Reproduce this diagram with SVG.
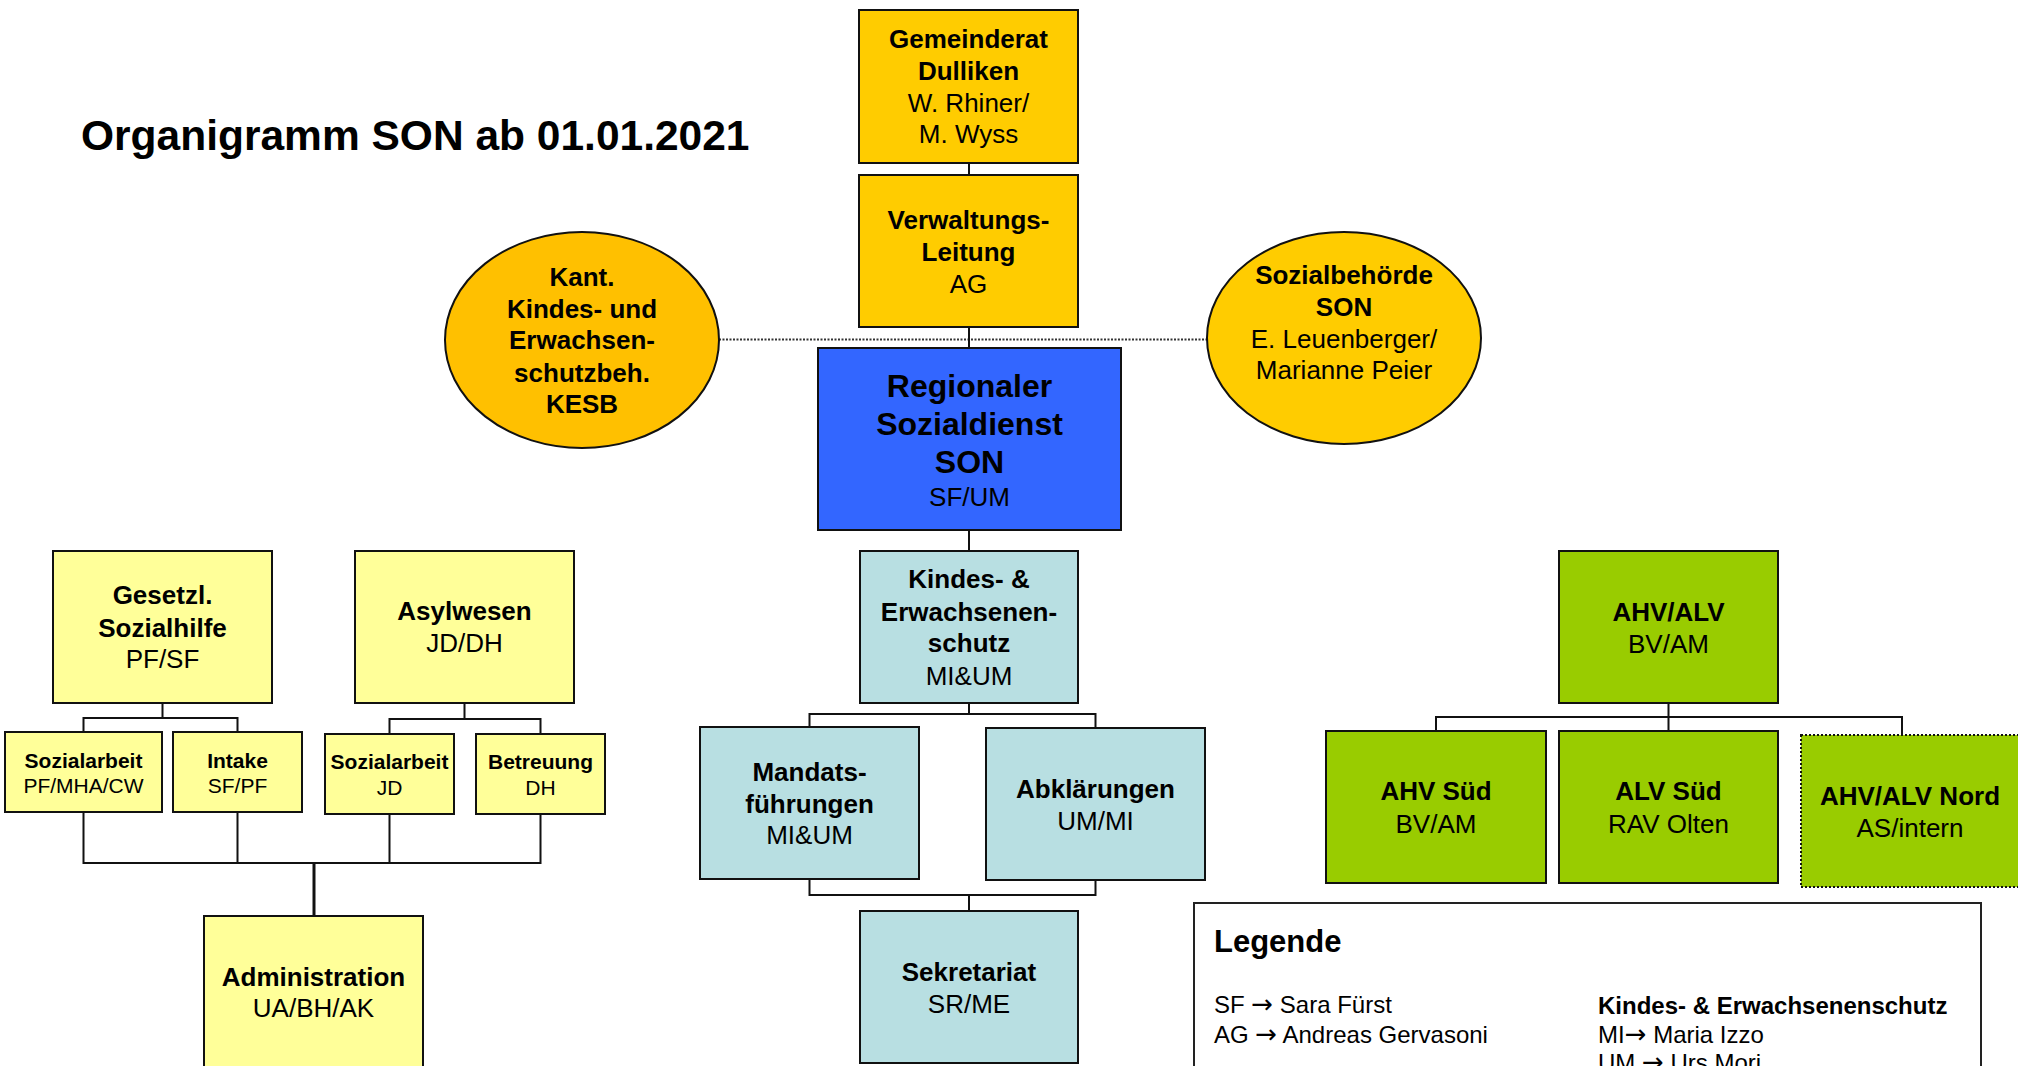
<svg xmlns="http://www.w3.org/2000/svg" width="2018" height="1066" viewBox="0 0 2018 1066">
<style>
text{font-family:"Liberation Sans",Arial,sans-serif;fill:#000;text-anchor:middle}
.b{font-weight:bold}
.t26{font-size:26px}
.t21{font-size:21px}
.t32{font-size:32px}
.box{stroke:#111;stroke-width:2}
.gold{fill:#FFCC00}
.orange{fill:#FFC000}
.blue{fill:#3366FF}
.lyel{fill:#FFFF99}
.lblue{fill:#B8DFE2}
.green{fill:#99CC00}
.con{fill:none;stroke:#111;stroke-width:2}
.leg{font-size:24px;text-anchor:start}
.arr{font-family:"DejaVu Sans",sans-serif;font-size:26px}
</style>
<rect width="2018" height="1066" fill="#fff"/>
<text x="81" y="150" class="b" style="font-size:42.5px;text-anchor:start">Organigramm SON ab 01.01.2021</text>

<g id="connectors">
  <line x1="719" y1="339.5" x2="1207" y2="339.5" stroke="#333" stroke-width="2" stroke-dasharray="2 1.5"/>
  <path class="con" d="M969 163V175M969 327V348M969 530V551"/>
  <path class="con" d="M969 703V714M809.5 727V714H1095.5V728"/>
  <path class="con" d="M809.5 879V895H1095.5V880M969 895V911"/>
  <path class="con" d="M162.5 703V718M83.5 732V718H237.5V732"/>
  <path class="con" d="M464.5 703V719M389.5 734V719H540.5V734"/>
  <path class="con" d="M83.5 812V863H540.5V814M237.5 812V863M389.5 814V863"/>
  <path class="con" style="stroke-width:3" d="M314 863V916"/>
  <path class="con" d="M1668.5 703V717M1436 731V717H1902V735M1668.5 717V731"/>
</g>

<g id="gemeinderat">
  <rect class="box gold" x="859" y="10" width="219" height="153"/>
  <text x="968.5" y="48" class="b t26">Gemeinderat</text>
  <text x="968.5" y="80" class="b t26">Dulliken</text>
  <text x="968.5" y="112" class="t26">W. Rhiner/</text>
  <text x="968.5" y="143" class="t26">M. Wyss</text>
</g>
<g id="verwaltung">
  <rect class="box gold" x="859" y="175" width="219" height="152"/>
  <text x="968.5" y="229" class="b t26">Verwaltungs-</text>
  <text x="968.5" y="261" class="b t26">Leitung</text>
  <text x="968.5" y="293" class="t26">AG</text>
</g>
<g id="kesb">
  <ellipse class="box orange" cx="582" cy="340" rx="137" ry="108"/>
  <text x="582" y="286" class="b t26">Kant.</text>
  <text x="582" y="318" class="b t26">Kindes- und</text>
  <text x="582" y="349" class="b t26">Erwachsen-</text>
  <text x="582" y="382" class="b t26">schutzbeh.</text>
  <text x="582" y="413" class="b t26">KESB</text>
</g>
<g id="sozialbehoerde">
  <ellipse class="box gold" cx="1344" cy="338" rx="137" ry="106"/>
  <text x="1344" y="284" class="b t26">Sozialbehörde</text>
  <text x="1344" y="316" class="b t26">SON</text>
  <text x="1344" y="348" class="t26">E. Leuenberger/</text>
  <text x="1344" y="379" class="t26">Marianne Peier</text>
</g>
<g id="regional">
  <rect class="box blue" x="818" y="348" width="303" height="182"/>
  <text x="969.5" y="397" class="b t32">Regionaler</text>
  <text x="969.5" y="435" class="b t32">Sozialdienst</text>
  <text x="969.5" y="473" class="b t32">SON</text>
  <text x="969.5" y="506" class="t26">SF/UM</text>
</g>

<g id="gesetzl">
  <rect class="box lyel" x="53" y="551" width="219" height="152"/>
  <text x="162.5" y="604" class="b t26">Gesetzl.</text>
  <text x="162.5" y="637" class="b t26">Sozialhilfe</text>
  <text x="162.5" y="668" class="t26">PF/SF</text>
</g>
<g id="asylwesen">
  <rect class="box lyel" x="355" y="551" width="219" height="152"/>
  <text x="464.5" y="620" class="b t26">Asylwesen</text>
  <text x="464.5" y="652" class="t26">JD/DH</text>
</g>
<g id="sozialarbeit-pf">
  <rect class="box lyel" x="5" y="732" width="157" height="80"/>
  <text x="83.5" y="768" class="b t21">Sozialarbeit</text>
  <text x="83.5" y="793" class="t21">PF/MHA/CW</text>
</g>
<g id="intake">
  <rect class="box lyel" x="173" y="732" width="129" height="80"/>
  <text x="237.5" y="768" class="b t21">Intake</text>
  <text x="237.5" y="793" class="t21">SF/PF</text>
</g>
<g id="sozialarbeit-jd">
  <rect class="box lyel" x="325" y="734" width="129" height="80"/>
  <text x="389.5" y="769" class="b t21">Sozialarbeit</text>
  <text x="389.5" y="795" class="t21">JD</text>
</g>
<g id="betreuung">
  <rect class="box lyel" x="476" y="734" width="129" height="80"/>
  <text x="540.5" y="769" class="b t21">Betreuung</text>
  <text x="540.5" y="795" class="t21">DH</text>
</g>
<g id="administration">
  <rect class="box lyel" x="204" y="916" width="219" height="170"/>
  <text x="313.5" y="986" class="b t26">Administration</text>
  <text x="313.5" y="1017" class="t26">UA/BH/AK</text>
</g>

<g id="kindes">
  <rect class="box lblue" x="860" y="551" width="218" height="152"/>
  <text x="969" y="588" class="b t26">Kindes- &amp;</text>
  <text x="969" y="621" class="b t26">Erwachsenen-</text>
  <text x="969" y="652" class="b t26">schutz</text>
  <text x="969" y="685" class="t26">MI&amp;UM</text>
</g>
<g id="mandats">
  <rect class="box lblue" x="700" y="727" width="219" height="152"/>
  <text x="809.5" y="781" class="b t26">Mandats-</text>
  <text x="809.5" y="813" class="b t26">führungen</text>
  <text x="809.5" y="844" class="t26">MI&amp;UM</text>
</g>
<g id="abklaerungen">
  <rect class="box lblue" x="986" y="728" width="219" height="152"/>
  <text x="1095.5" y="798" class="b t26">Abklärungen</text>
  <text x="1095.5" y="830" class="t26">UM/MI</text>
</g>
<g id="sekretariat">
  <rect class="box lblue" x="860" y="911" width="218" height="152"/>
  <text x="969" y="981" class="b t26">Sekretariat</text>
  <text x="969" y="1013" class="t26">SR/ME</text>
</g>

<g id="ahv-alv">
  <rect class="box green" x="1559" y="551" width="219" height="152"/>
  <text x="1668.5" y="621" class="b t26">AHV/ALV</text>
  <text x="1668.5" y="653" class="t26">BV/AM</text>
</g>
<g id="ahv-sued">
  <rect class="box green" x="1326" y="731" width="220" height="152"/>
  <text x="1436" y="800" class="b t26">AHV Süd</text>
  <text x="1436" y="833" class="t26">BV/AM</text>
</g>
<g id="alv-sued">
  <rect class="box green" x="1559" y="731" width="219" height="152"/>
  <text x="1668.5" y="800" class="b t26">ALV Süd</text>
  <text x="1668.5" y="833" class="t26">RAV Olten</text>
</g>
<g id="ahv-alv-nord">
  <rect class="green" x="1801" y="735" width="219" height="152" stroke="#111" stroke-width="2" stroke-dasharray="2 2"/>
  <text x="1910" y="805" class="b t26">AHV/ALV Nord</text>
  <text x="1910" y="837" class="t26">AS/intern</text>
</g>

<g id="legende">
  <rect x="1194" y="903" width="787" height="200" fill="#fff" stroke="#222" stroke-width="2"/>
  <text x="1214" y="952" class="b" style="font-size:31px;text-anchor:start">Legende</text>
  <text x="1214" y="1013" class="leg">SF <tspan class="arr">→</tspan> Sara Fürst</text>
  <text x="1214" y="1043" class="leg">AG <tspan class="arr">→</tspan> Andreas Gervasoni</text>
  <text x="1598" y="1014" class="leg b">Kindes- &amp; Erwachsenenschutz</text>
  <text x="1598" y="1043" class="leg">MI<tspan class="arr">→</tspan> Maria Izzo</text>
  <text x="1598" y="1071" class="leg">UM <tspan class="arr">→</tspan> Urs Mori</text>
</g>
</svg>
